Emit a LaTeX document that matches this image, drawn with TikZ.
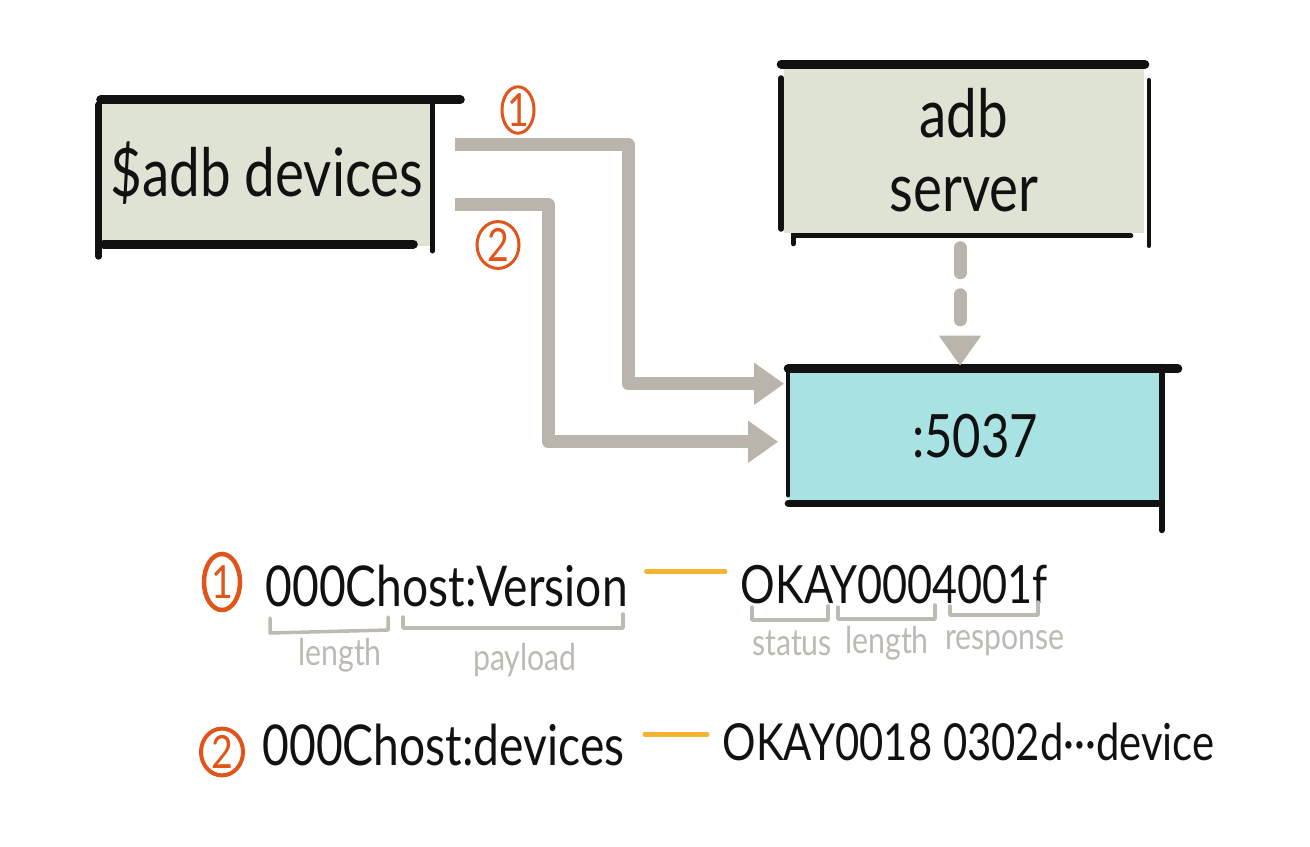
\documentclass[tikz,border=0pt]{standalone}
\usepackage{fontspec}
\setmainfont{Lato}
\newfontfamily\handfont[FakeStretch=0.82]{Lato}
\usetikzlibrary{calc,arrows.meta,shapes.geometric}
\definecolor{boxgreen}{HTML}{DFE3D3}
\definecolor{portcyan}{HTML}{A8E2E2}
\definecolor{pipegray}{HTML}{B9B5AD}
\definecolor{markorange}{HTML}{E0561A}
\definecolor{dashyellow}{HTML}{F4B330}
\definecolor{labelgray}{HTML}{BDBAB1}
\definecolor{ink}{HTML}{111111}
\tikzset{
  sketchbox/.style={fill=boxgreen, inner sep=0pt, text=ink, font=\handfont\fontsize{19}{21}\selectfont},
  portbox/.style={sketchbox, fill=portcyan},
  bar/.style={draw=ink, line width=0.09cm, line cap=round},
  edge/.style={draw=ink, line width=0.045cm, line cap=round},
  pipe/.style={draw=pipegray, line width=0.13cm, line join=round, -{Triangle[length=0.3cm, width=0.4cm]}},
  dashpipe/.style={pipe, dash pattern=on 0.25cm off 0.22cm, line cap=round},
  num/.style={ellipse, draw=markorange, line width=0.03cm, text=markorange, inner sep=0pt, font=\handfont\fontsize{13}{15}\selectfont},
  code/.style={anchor=base west, inner sep=0pt, text=ink, font=\handfont\fontsize{16}{18}\selectfont},
  note/.style={inner sep=0pt, text=labelgray, font=\handfont\fontsize{10.5}{12}\selectfont},
  brace/.style={draw=labelgray, line width=0.035cm, line cap=round, line join=round},
  link/.style={draw=dashyellow, line width=0.05cm, line cap=round}
}
\begin{document}
\begin{tikzpicture}[x=0.01cm, y=-0.01cm]
  \useasboundingbox (0,0) rectangle (1310,846);

  % boxes
  \node[sketchbox, minimum width=3.35cm, minimum height=1.45cm] (dev) at (267,173) {\$adb devices};
  \node[sketchbox, align=center, minimum width=3.6cm, minimum height=1.66cm] (srv) at (964,150) {adb\\server};
  \node[portbox, minimum width=3.72cm, minimum height=1.33cm, font=\handfont\fontsize{17}{20}\selectfont] (port) at (975,436) {:5037};

  % sketchy outlines
  \draw[bar] ($(dev.north west)+(2,0)$) -- ($(dev.north east)+(25,0)$);
  \draw[bar] ($(dev.south west)+(5,-2)$) -- ($(dev.south east)+(-22,-2)$);
  \draw[edge, line width=0.07cm] ($(dev.north west)+(0,5)$) -- ($(dev.south west)+(0,10)$);
  \draw[edge] ($(dev.north east)+(-3,5)$) -- ($(dev.south east)+(-3,5)$);

  \draw[bar] ($(srv.north west)+(-2,-2)$) -- ($(srv.north east)+(0,-2)$);
  \draw[edge, line width=0.06cm] ($(srv.north west)+(-2,12)$) -- ($(srv.south west)+(-2,-5)$);
  \draw[edge] ($(srv.north east)+(4,14)$) -- ($(srv.south east)+(4,12)$);
  \draw[edge, line width=0.05cm] ($(srv.south west)+(10,10)$) -- ($(srv.south west)+(10,2)$) -- ($(srv.south east)+(-14,2)$);

  \draw[bar] (port.north west) -- ($(port.north east)+(16,0)$);
  \draw[edge] (port.north west) -- ($(port.south west)+(0,-8)$);
  \draw[edge, line width=0.06cm] ($(port.north east)+(0,-2)$) -- ($(port.south east)+(0,27)$);
  \draw[bar, line width=0.07cm] (port.south west) -- ($(port.south east)+(-3,0)$);

  % connectors
  \coordinate (d1) at ($(dev.north east)+(20,45)$);
  \coordinate (d2) at ($(dev.north east)+(20,105)$);
  \coordinate (k1) at (628,260);
  \coordinate (k2) at (548,320);
  \coordinate (p1) at ($(port.north west)+(-4,15)$);
  \coordinate (p2) at ($(port.north west)+(-10,73)$);
  \draw[pipe] (d1) -| (k1) |- (p1);
  \draw[pipe] (d2) -| (k2) |- (p2);
  \draw[dashpipe] ($(srv.south)+(-4,14)$) -- ($(port.north)+(-15,-3)$);

  \node[num, minimum width=0.32cm, minimum height=0.36cm] (m1) at (518,110) {1};
  \node[num, minimum width=0.42cm, minimum height=0.42cm] (m2) at (498,245) {2};

  % messages
  \node[num, minimum width=0.36cm, minimum height=0.56cm, line width=0.045cm] (r1) at (222,582) {1};
  \node[code] (q1) at (265,606) {000Chost:Version};
  \node[code, font=\handfont\fontsize{15}{18}\selectfont] (a1) at (740,603) {OKAY0004001f};
  \draw[link] ($(q1.east)+(18,-14)$) -- ($(q1.east -| a1.west)+(-15,-14)$);

  \node[note] (l1) at (340,655) {length};
  \node[note] (l2) at (525,660) {payload};
  \node[note] (l3) at (792,643) {status};
  \node[note] (l4) at (887,643) {length};
  \node[note] (l5) at (1005,643) {response};
  \draw[brace] (270,618) -- (270,633) -- (388,630) -- (388,617);
  \draw[brace] (403,617) -- (403,628) -- (623,628) -- (623,614);
  \draw[brace] (752,607) -- (752,620) -- (828,620) -- (828,606);
  \draw[brace] (838,607) -- (838,619) -- (935,619) -- (935,605);
  \draw[brace] (950,606) -- (950,615) -- (1038,615) -- (1038,602);

  \node[num, minimum width=0.42cm, minimum height=0.42cm, line width=0.04cm] (r2) at (222,752) {2};
  \node[code] (q2) at (262,765) {000Chost:devices};
  \node[code, font=\handfont\fontsize{14.5}{18}\selectfont] (a2) at (722,760) {OKAY0018 0302d···device};
  \draw[link] ($(q2.east)+(20,-10)$) -- ($(q2.east -| a2.west)+(-15,-10)$);
\end{tikzpicture}
\end{document}
